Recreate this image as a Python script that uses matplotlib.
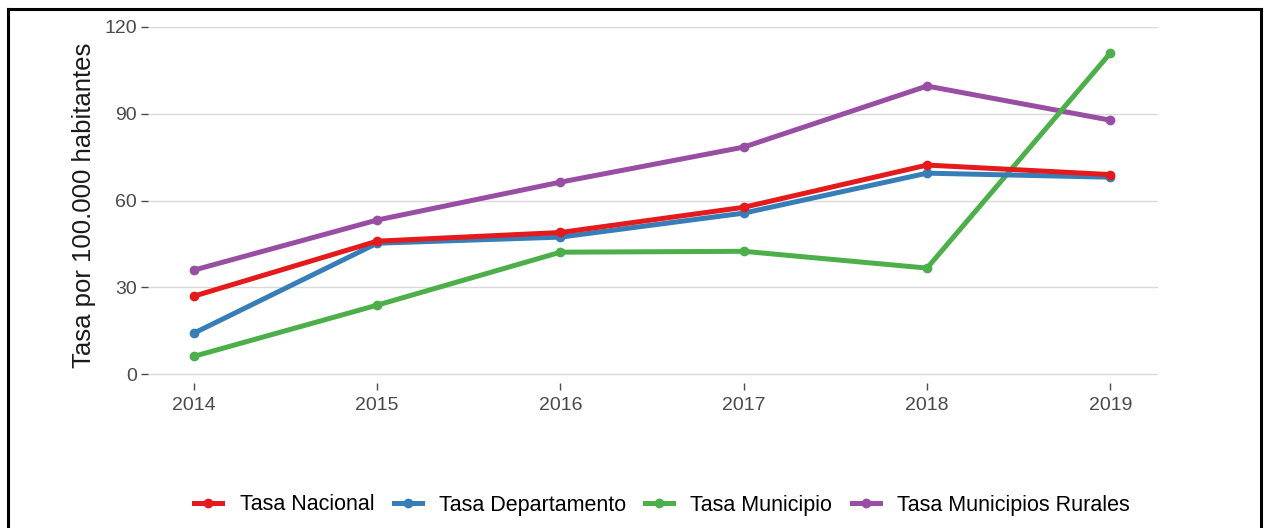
import numpy as np
import matplotlib.pyplot as plt
from matplotlib.lines import Line2D

plt.rcParams['font.family'] = ['Liberation Sans', 'DejaVu Sans']

years = [2014, 2015, 2016, 2017, 2018, 2019]
tasaNacional = [27.0, 46.0, 49.0, 57.7, 72.3, 69.0]
tasaDepto = [14.2, 45.3, 47.4, 55.7, 69.5, 68.1]
tasaMunicipio = [6.2, 23.9, 42.2, 42.5, 36.7, 111.0]
tasaRurales = [36.0, 53.3, 66.4, 78.5, 99.6, 87.8]

labels = ['Tasa Nacional', 'Tasa Departamento', 'Tasa Municipio', 'Tasa Municipios Rurales']
colors = ['#e41a1c', '#377eb8', '#4daf4a', '#984ea3']

W, H = 1265, 528
fig = plt.figure(figsize=(W/100, H/100), dpi=100)
ax = fig.add_axes([148/W, 1-383/H, (1158-148)/W, (383-27)/H])

# draw purple first so red/blue sit on top like the reference
order = [3, 2, 1, 0]
series = [tasaNacional, tasaDepto, tasaMunicipio, tasaRurales]
handles = []
for i in order:
    ax.plot(years, series[i], color=colors[i], lw=3.6, marker='o', ms=6,
            clip_on=False, zorder=3, solid_capstyle='round')
for i in range(4):
    handles.append(Line2D([], [], color=colors[i], lw=3.6, marker='o', ms=6))

ax.set_xlim(2013.75, 2019.26)
ax.set_ylim(-3, 120)
ax.set_yticks([0, 30, 60, 90, 120])
ax.set_xticks(years)
ax.grid(axis='y', color='#d9d9d9', lw=1)
ax.set_axisbelow(True)
for s in ax.spines.values():
    s.set_visible(False)
ax.tick_params(axis='both', colors='#4a4a4a', labelsize=14, length=5, width=1)
ax.tick_params(axis='y', pad=3)
ax.tick_params(axis='x', pad=5)
ax.set_ylabel('Tasa por 100.000 habitantes', fontsize=18.5, color='#1a1a1a', labelpad=6)

fig.legend(handles, labels, loc='center', bbox_to_anchor=(662/W, 1-505/H), ncol=4,
           frameon=False, fontsize=15.5, handlelength=1.3, columnspacing=0.9,
           handletextpad=0.8)

# outer frame
fr = dict(color='black', lw=2.2, transform=fig.transFigure)
fig.add_artist(Line2D([8/W, 8/W], [0, 1-9/H], **fr))
fig.add_artist(Line2D([8/W, 1261/W], [1-9/H, 1-9/H], **fr))
fig.add_artist(Line2D([1261/W, 1261/W], [0, 1-9/H], **fr))

fig.savefig('out.png', dpi=100)
